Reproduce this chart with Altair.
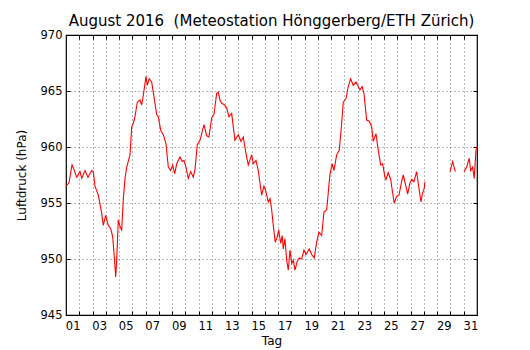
import altair as alt
import pandas as pd

# Day of month (fractional, 1.0 = 1 Aug 00:00) and pressure (hPa)
seg1_day = [1.000, 1.226, 1.452, 1.603, 1.807, 2.056, 2.184, 2.433, 2.659, 2.938,
            3.059, 3.187, 3.436, 3.692, 3.813, 3.994, 4.190, 4.371, 4.522, 4.643,
            4.748, 4.824, 4.944, 5.072, 5.201, 5.321, 5.449, 5.578, 5.827, 5.955,
            6.075, 6.204, 6.377, 6.581, 6.709, 6.830, 7.033, 7.131, 7.282, 7.463,
            7.636, 7.840, 7.961, 8.142, 8.338, 8.541, 8.715, 8.896, 9.047, 9.198,
            9.348, 9.597, 9.771, 9.899, 10.050, 10.223, 10.404, 10.600, 10.729, 10.902,
            11.106, 11.407, 11.611, 11.784, 11.988, 12.161, 12.365, 12.480, 12.614, 12.742,
            12.916, 13.119, 13.293, 13.496, 13.617, 13.745, 13.994, 14.198, 14.371, 14.575,
            14.748, 15.005, 15.125, 15.329, 15.502, 15.630, 15.759, 15.932, 16.083, 16.256,
            16.385, 16.513, 16.633, 16.784, 16.935, 17.041, 17.192, 17.312, 17.388, 17.516,
            17.644, 17.765, 17.893, 18.021, 18.142, 18.270, 18.443, 18.594, 18.775, 18.949,
            19.100, 19.348, 19.529, 19.725, 19.906, 20.080, 20.284, 20.457, 20.661, 20.781,
            20.910, 21.083, 21.211, 21.415, 21.611, 21.792, 21.913, 22.116, 22.290, 22.471,
            22.667, 22.870, 23.044, 23.172, 23.345, 23.474, 23.677, 23.873, 24.054, 24.175,
            24.379, 24.552, 24.733, 24.884, 25.057, 25.133, 25.306, 25.487, 25.638, 25.759,
            25.940, 26.113, 26.317, 26.437, 26.618, 26.769, 26.943, 27.071, 27.244, 27.448,
            27.599, 27.772, 27.900, 28.021, 28.073]
seg1_hpa = [956.5, 956.8, 958.4, 958.0, 957.3, 957.8, 957.2, 957.9, 957.3, 957.9,
            957.8, 956.5, 955.7, 954.1, 953.0, 953.9, 953.0, 952.7, 952.0, 950.2,
            948.4, 949.9, 953.5, 952.9, 952.6, 955.3, 957.2, 958.2, 959.3, 961.8,
            962.1, 962.7, 964.0, 964.2, 963.75, 964.6, 966.3, 965.5, 966.1, 965.8,
            964.5, 962.9, 962.7, 961.5, 961.1, 960.3, 958.2, 957.9, 958.4, 957.6,
            958.5, 959.1, 958.7, 958.8, 958.2, 957.2, 957.8, 957.3, 958.0, 960.2,
            960.6, 962.0, 961.0, 960.9, 962.6, 962.9, 964.8, 964.9, 964.2, 963.9,
            963.8, 963.5, 962.7, 963.0, 961.8, 960.6, 961.1, 960.5, 960.9, 959.4,
            958.4, 959.3, 958.5, 958.8, 957.9, 956.8, 955.7, 956.5, 956.0, 955.1,
            955.4, 954.4, 953.0, 951.5, 952.0, 952.6, 951.4, 952.1, 950.9, 951.8,
            949.9, 949.0, 950.8, 949.6, 949.9, 949.0, 949.8, 950.1, 950.0, 950.8,
            950.4, 950.9, 950.4, 950.1, 951.5, 952.4, 952.1, 954.2, 954.4, 955.9,
            957.6, 958.5, 957.9, 959.3, 959.7, 962.1, 964.0, 964.3, 965.4, 966.1,
            965.5, 965.8, 965.4, 965.1, 965.4, 964.8, 962.4, 962.3, 961.8, 960.5,
            961.2, 959.7, 958.4, 958.5, 957.3, 957.1, 957.7, 957.1, 955.9, 955.0,
            955.6, 955.7, 956.9, 957.5, 956.6, 955.8, 956.8, 957.1, 956.9, 957.8,
            956.5, 955.1, 955.9, 956.3, 956.9]

seg2_day = [29.967, 30.070, 30.166, 30.290, 30.370]
seg2_hpa = [957.8, 958.3, 958.7, 958.1, 957.8]

seg3_day = [31.015, 31.219, 31.414, 31.520, 31.671, 31.792, 31.920, 31.995]
seg3_hpa = [957.8, 958.2, 959.0, 957.9, 958.2, 957.2, 959.7, 960.0]

day_grid = list(range(2, 32))
label_pos = [d + 0.5 for d in range(1, 32, 2)]
y_ticks = [945, 950, 955, 960, 965, 970]
y_grid = [950, 955, 960, 965]

rows = []
for seg, (ds, vs) in enumerate([(seg1_day, seg1_hpa), (seg2_day, seg2_hpa), (seg3_day, seg3_hpa)]):
    for d, v in zip(ds, vs):
        rows.append({"day": d, "hpa": v, "seg": seg})
df = pd.DataFrame(rows)

xs = alt.Scale(domain=[1, 32], nice=False, zero=False)
ys = alt.Scale(domain=[945, 970], nice=False, zero=False)
FONT = "DejaVu Sans"
GRID = dict(grid=True, gridColor="black", gridDash=[1, 3], gridWidth=0.8, gridOpacity=0.7)

base = alt.Chart(df)

grid_layer = base.mark_line(opacity=0).encode(
    x=alt.X("day:Q", scale=xs, axis=alt.Axis(orient="bottom", values=day_grid,
            ticks=False, labels=False, domain=False, title="", **GRID)),
    y=alt.Y("hpa:Q", scale=ys, axis=alt.Axis(orient="left", values=y_grid,
            ticks=False, labels=False, domain=False, title="", **GRID)),
    detail="seg:N",
)

tick_bl = base.mark_line(opacity=0).encode(
    x=alt.X("day:Q", scale=xs, axis=alt.Axis(orient="bottom", values=day_grid, offset=-4,
            tickSize=4, tickColor="black", labels=False, domain=False, grid=False, title="")),
    y=alt.Y("hpa:Q", scale=ys, axis=alt.Axis(orient="left", values=y_ticks, offset=-4,
            tickSize=4, tickColor="black", domain=False, grid=False,
            labelFont=FONT, labelFontSize=11.5, labelColor="black", labelPadding=4,
            title="Luftdruck (hPa)", titleFont=FONT, titleFontSize=12,
            titleFontWeight="normal", titleColor="black", titlePadding=12)),
    detail="seg:N",
)

tick_tr = base.mark_line(opacity=0).encode(
    x=alt.X("day:Q", scale=xs, axis=alt.Axis(orient="top", values=day_grid, offset=-4,
            tickSize=4, tickColor="black", labels=False, domain=False, grid=False, title="")),
    y=alt.Y("hpa:Q", scale=ys, axis=alt.Axis(orient="right", values=y_ticks, offset=-4,
            tickSize=4, tickColor="black", labels=False, domain=False, grid=False, title="")),
    detail="seg:N",
)

line = base.mark_line(color="#ff0000", strokeWidth=1.1).encode(
    x=alt.X("day:Q", scale=xs, axis=alt.Axis(orient="bottom", values=label_pos, ticks=False,
            domain=False, grid=False, labelExpr="format(floor(datum.value), '02d')",
            labelFont=FONT, labelFontSize=11.5, labelColor="black", labelPadding=5,
            title="Tag", titleFont=FONT, titleFontSize=12, titleFontWeight="normal",
            titleColor="black", titlePadding=4)),
    y=alt.Y("hpa:Q", scale=ys, axis=None),
    detail="seg:N",
)

chart = alt.layer(grid_layer, tick_bl, tick_tr, line).resolve_axis(
    x="independent", y="independent"
).properties(
    width=411,
    height=280,
    background="white",
    title=alt.TitleParams("August 2016\u00a0\u00a0(Meteostation Hönggerberg/ETH Zürich)",
                          font=FONT, fontSize=15, fontWeight="normal", color="black",
                          anchor="middle", offset=0),
    autosize=alt.AutoSizeParams(type="none"),
    padding={"left": 58, "top": 27, "right": 45, "bottom": 34},
).configure_view(stroke="black", strokeWidth=1.2)

chart.save("out.html", embed_options={"renderer": "svg", "actions": False})
